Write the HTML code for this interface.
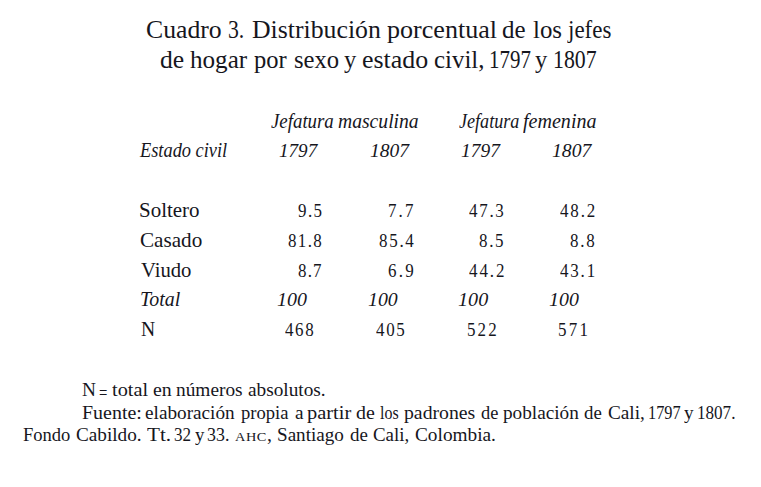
<!DOCTYPE html>
<html>
<head>
<meta charset="utf-8">
<style>
html, body { margin:0; padding:0; background:#fff; }
body { width:761px; height:487px; position:relative; overflow:hidden; font-family:"Liberation Serif", serif; color:#16161d; }
.t { position:absolute; white-space:nowrap; line-height:1; transform-origin:0 0; }
.i { font-style:italic; }
.sc { font-size:0.72em; letter-spacing:0.04em; }
</style>
</head>
<body>
<div class="t" style="left:146.39px;top:17px;font-size:25.5px;transform:scaleX(1.0081);">Cuadro</div>
<div class="t" style="left:227.95px;top:17px;font-size:25.5px;transform:scaleX(0.8529);">3.</div>
<div class="t" style="left:252.20px;top:17px;font-size:25.5px;transform:scaleX(1.0110);">Distribución</div>
<div class="t" style="left:387.40px;top:17px;font-size:25.5px;transform:scaleX(1.0224);">porcentual</div>
<div class="t" style="left:502.32px;top:17px;font-size:25.5px;transform:scaleX(0.9783);">de</div>
<div class="t" style="left:532.70px;top:17px;font-size:25.5px;transform:scaleX(0.9759);">los</div>
<div class="t" style="left:567.80px;top:17px;font-size:25.5px;transform:scaleX(0.9000);">jefes</div>
<div class="t" style="left:159.50px;top:47px;font-size:25.5px;transform:scaleX(1.0043);">de</div>
<div class="t" style="left:190.00px;top:47px;font-size:25.5px;transform:scaleX(0.9845);">hogar</div>
<div class="t" style="left:254.00px;top:47px;font-size:25.5px;transform:scaleX(0.9618);">por</div>
<div class="t" style="left:294.33px;top:47px;font-size:25.5px;transform:scaleX(0.9667);">sexo</div>
<div class="t" style="left:343.58px;top:47px;font-size:25.5px;transform:scaleX(0.9642);">y</div>
<div class="t" style="left:361.68px;top:47px;font-size:25.5px;transform:scaleX(1.0156);">estado</div>
<div class="t" style="left:433.72px;top:47px;font-size:25.5px;transform:scaleX(0.9755);">civil,</div>
<div class="t" style="left:488.66px;top:47px;font-size:25.5px;transform:scaleX(0.8204);">1797</div>
<div class="t" style="left:535.43px;top:47px;font-size:25.5px;transform:scaleX(0.9642);">y</div>
<div class="t" style="left:553.09px;top:47px;font-size:25.5px;transform:scaleX(0.8551);">1807</div>
<div class="t i" style="left:270.80px;top:111px;font-size:20.5px;transform:scaleX(0.9191);">Jefatura</div>
<div class="t i" style="left:338.40px;top:111px;font-size:20.5px;transform:scaleX(0.9571);">masculina</div>
<div class="t i" style="left:458.60px;top:111px;font-size:20.5px;transform:scaleX(0.8824);">Jefatura</div>
<div class="t i" style="left:522.60px;top:111px;font-size:20.5px;transform:scaleX(0.9787);">femenina</div>
<div class="t i" style="left:140.10px;top:140px;font-size:20.5px;transform:scaleX(0.8959);">Estado civil</div>
<div class="t i" style="left:279.27px;top:142px;font-size:18.6px;transform:scaleX(1.0270);">1797</div>
<div class="t i" style="left:370.45px;top:142px;font-size:18.6px;transform:scaleX(1.0514);">1807</div>
<div class="t i" style="left:461.15px;top:142px;font-size:18.6px;transform:scaleX(1.0459);">1797</div>
<div class="t i" style="left:551.84px;top:142px;font-size:18.6px;transform:scaleX(1.0595);">1807</div>
<div class="t" style="left:139.42px;top:200px;font-size:21.5px;transform:scaleX(0.9754);">Soltero</div>
<div class="t" style="left:139.72px;top:230px;font-size:21.5px;transform:scaleX(0.9839);">Casado</div>
<div class="t" style="left:141.00px;top:260px;font-size:21.5px;transform:scaleX(0.9615);">Viudo</div>
<div class="t i" style="left:139.57px;top:289px;font-size:21.5px;transform:scaleX(0.9262);">Total</div>
<div class="t" style="left:140.50px;top:319px;font-size:21.5px;transform:scaleX(0.9133);">N</div>
<div class="t" style="left:297.80px;top:201px;font-size:19.5px;letter-spacing:1.62px;transform:scaleX(0.8700);">9.5</div>
<div class="t" style="left:387.53px;top:201px;font-size:19.5px;letter-spacing:2.41px;transform:scaleX(0.8700);">7.7</div>
<div class="t" style="left:468.90px;top:201px;font-size:19.5px;letter-spacing:1.96px;transform:scaleX(0.8700);">47.3</div>
<div class="t" style="left:559.80px;top:201px;font-size:19.5px;letter-spacing:2.15px;transform:scaleX(0.8700);">48.2</div>
<div class="t" style="left:287.90px;top:231px;font-size:19.5px;letter-spacing:1.54px;transform:scaleX(0.8700);">81.8</div>
<div class="t" style="left:378.90px;top:231px;font-size:19.5px;letter-spacing:1.96px;transform:scaleX(0.8700);">85.4</div>
<div class="t" style="left:479.40px;top:231px;font-size:19.5px;letter-spacing:1.91px;transform:scaleX(0.8700);">8.5</div>
<div class="t" style="left:570.30px;top:231px;font-size:19.5px;letter-spacing:2.02px;transform:scaleX(0.8700);">8.8</div>
<div class="t" style="left:297.80px;top:261px;font-size:19.5px;letter-spacing:1.33px;transform:scaleX(0.8700);">8.7</div>
<div class="t" style="left:387.53px;top:261px;font-size:19.5px;letter-spacing:2.64px;transform:scaleX(0.8700);">6.9</div>
<div class="t" style="left:468.90px;top:261px;font-size:19.5px;letter-spacing:2.19px;transform:scaleX(0.8700);">44.2</div>
<div class="t" style="left:559.80px;top:261px;font-size:19.5px;letter-spacing:2.10px;transform:scaleX(0.8700);">43.1</div>
<div class="t i" style="left:276.58px;top:290px;font-size:19.5px;transform:scaleX(1.0250);">100</div>
<div class="t i" style="left:367.58px;top:290px;font-size:19.5px;transform:scaleX(1.0179);">100</div>
<div class="t i" style="left:458.47px;top:290px;font-size:19.5px;transform:scaleX(1.0321);">100</div>
<div class="t i" style="left:549.48px;top:290px;font-size:19.5px;transform:scaleX(1.0214);">100</div>
<div class="t" style="left:285.40px;top:320px;font-size:19.5px;letter-spacing:1.82px;transform:scaleX(0.8700);">468</div>
<div class="t" style="left:376.40px;top:320px;font-size:19.5px;letter-spacing:1.94px;transform:scaleX(0.8700);">405</div>
<div class="t" style="left:466.83px;top:320px;font-size:19.5px;letter-spacing:2.44px;transform:scaleX(0.8700);">522</div>
<div class="t" style="left:557.53px;top:320px;font-size:19.5px;letter-spacing:2.59px;transform:scaleX(0.8700);">571</div>
<div class="t" style="left:81.87px;top:381px;font-size:18.5px;transform:scaleX(1.0436);">N</div>
<div class="t" style="left:99.00px;top:384px;font-size:18.5px;transform:scaleX(0.8000);">=</div>
<div class="t" style="left:111.80px;top:381px;font-size:18.5px;transform:scaleX(1.0970);">total</div>
<div class="t" style="left:152.70px;top:381px;font-size:18.5px;transform:scaleX(1.0706);">en</div>
<div class="t" style="left:175.60px;top:381px;font-size:18.5px;transform:scaleX(1.0453);">números</div>
<div class="t" style="left:248.20px;top:381px;font-size:18.5px;transform:scaleX(1.0419);">absolutos.</div>
<div class="t" style="left:82.40px;top:404px;font-size:18.5px;transform:scaleX(1.0778);">Fuente:</div>
<div class="t" style="left:145.00px;top:404px;font-size:18.5px;transform:scaleX(1.0395);">elaboración</div>
<div class="t" style="left:240.80px;top:404px;font-size:18.5px;transform:scaleX(1.0043);">propia</div>
<div class="t" style="left:294.59px;top:404px;font-size:18.5px;transform:scaleX(1.0397);">a</div>
<div class="t" style="left:307.00px;top:404px;font-size:18.5px;transform:scaleX(1.1025);">partir</div>
<div class="t" style="left:356.20px;top:404px;font-size:18.5px;transform:scaleX(1.0765);">de</div>
<div class="t" style="left:380.20px;top:404px;font-size:18.5px;transform:scaleX(0.8636);">los</div>
<div class="t" style="left:404.40px;top:404px;font-size:18.5px;transform:scaleX(1.0672);">padrones</div>
<div class="t" style="left:481.20px;top:404px;font-size:18.5px;transform:scaleX(0.9941);">de</div>
<div class="t" style="left:503.30px;top:404px;font-size:18.5px;transform:scaleX(1.0397);">población</div>
<div class="t" style="left:583.80px;top:404px;font-size:18.5px;transform:scaleX(1.0176);">de</div>
<div class="t" style="left:607.50px;top:404px;font-size:18.5px;transform:scaleX(1.0400);">Cali,</div>
<div class="t" style="left:647.93px;top:404px;font-size:18.5px;transform:scaleX(0.8829);">1797</div>
<div class="t" style="left:684.12px;top:404px;font-size:18.5px;transform:scaleX(1.0397);">y</div>
<div class="t" style="left:696.75px;top:404px;font-size:18.5px;transform:scaleX(0.9231);">1807.</div>
<div class="t" style="left:23.00px;top:426px;font-size:18.5px;transform:scaleX(1.0021);">Fondo</div>
<div class="t" style="left:76.40px;top:426px;font-size:18.5px;transform:scaleX(1.0371);">Cabildo.</div>
<div class="t" style="left:146.60px;top:426px;font-size:18.5px;transform:scaleX(1.1450);">Tt.</div>
<div class="t" style="left:173.88px;top:426px;font-size:18.5px;transform:scaleX(0.9235);">32</div>
<div class="t" style="left:194.64px;top:426px;font-size:18.5px;transform:scaleX(1.0235);">y</div>
<div class="t" style="left:207.43px;top:426px;font-size:18.5px;transform:scaleX(0.9667);">33.</div>
<div class="t" style="left:234.90px;top:426px;font-size:18.5px;transform:scaleX(1.0765);"><span class="sc">AHC</span>,</div>
<div class="t" style="left:277.47px;top:426px;font-size:18.5px;transform:scaleX(1.0328);">Santiago</div>
<div class="t" style="left:350.40px;top:426px;font-size:18.5px;transform:scaleX(1.0235);">de</div>
<div class="t" style="left:373.30px;top:426px;font-size:18.5px;transform:scaleX(1.0229);">Cali,</div>
<div class="t" style="left:415.30px;top:426px;font-size:18.5px;transform:scaleX(1.0429);">Colombia.</div>
</body>
</html>
